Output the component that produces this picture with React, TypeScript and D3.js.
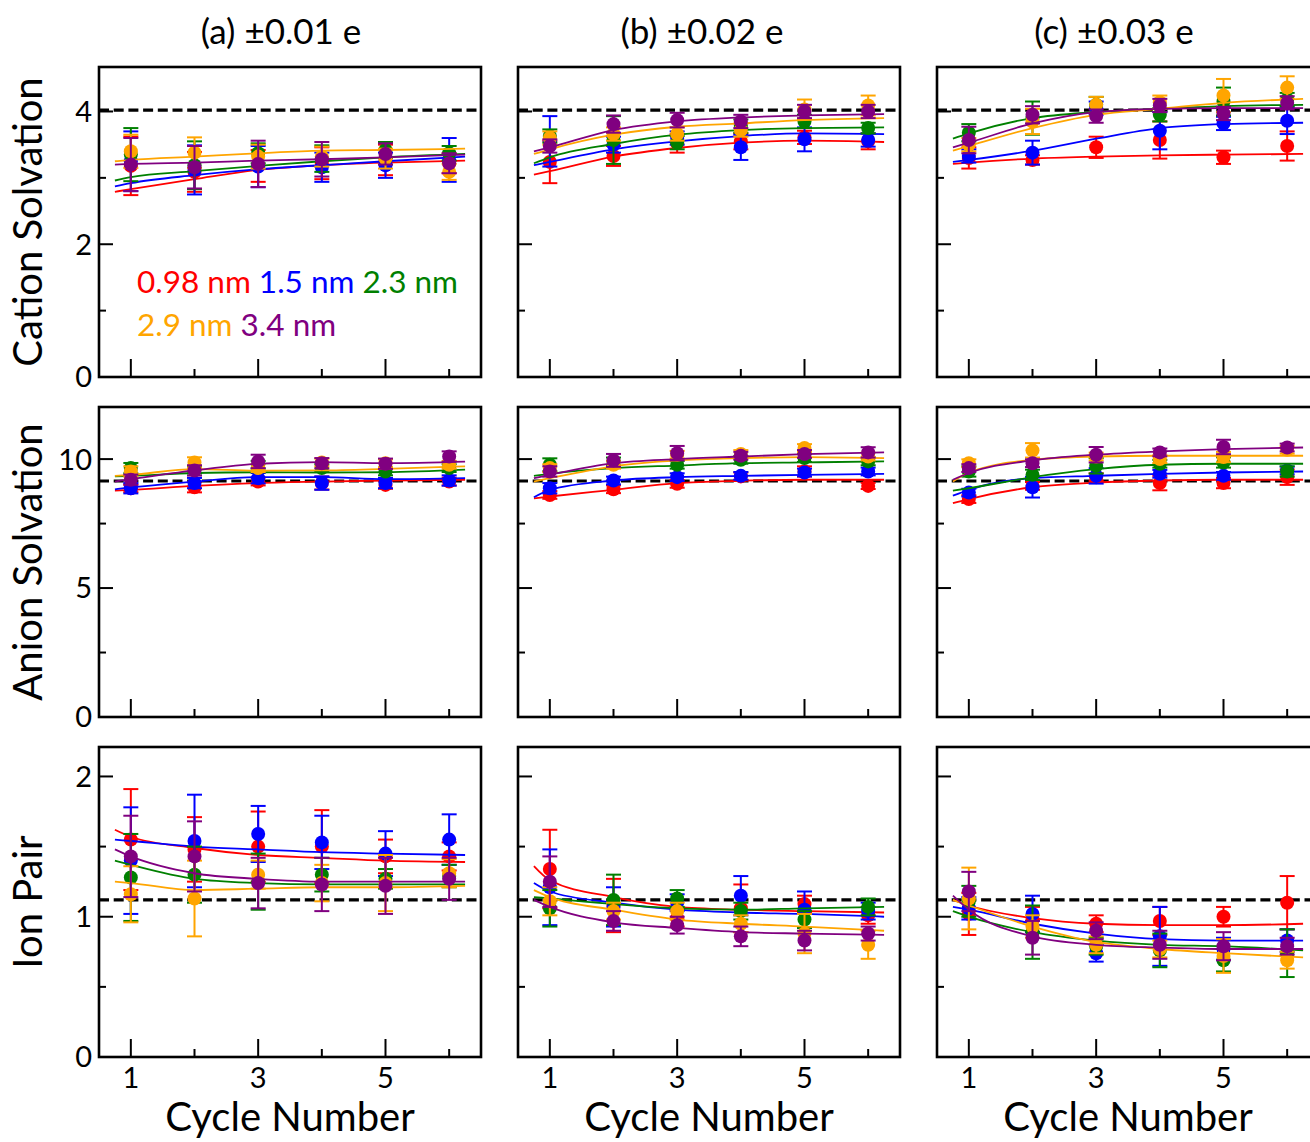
import React from "react";
import * as d3 from "d3";

// ---------- data ----------
const cycles = [1, 2, 3, 4, 5, 6];
const fitX = [0.75, 1, 2, 3, 4, 5, 6.25];
const seriesLabels = ["0.98 nm", "1.5 nm", "2.3 nm", "2.9 nm", "3.4 nm"];
const seriesColors = ["#ff0000", "#0000ff", "#008000", "#ffa500", "#800080"];
const panelTitles = ["(a) \u00b10.01 e", "(b) \u00b10.02 e", "(c) \u00b10.03 e"];
const rowLabels = ["Cation Solvation", "Anion Solvation", "Ion Pair"];
const xTickValues = [1, 2, 3, 4, 5, 6];
const xTickLabels = [1, 3, 5];
const cationTicks = [0, 1, 2, 3, 4];
const cationTickLabels = [0, 2, 4];
const anionTicks = [0, 2.5, 5, 7.5, 10];
const anionTickLabels = [0, 5, 10];
const pairTicks = [0, 0.5, 1, 1.5, 2];
const pairTickLabels = [0, 1, 2];
const yMax = [4.67, 12.02, 2.21];
const bulkRef = [4.02, 9.15, 1.12];

// series order: 0.98, 1.5, 2.3, 2.9, 3.4 nm
const cationA_mean = [
  [3.18, 3.09, 3.18, 3.22, 3.27, 3.22],
  [3.25, 3.12, 3.17, 3.16, 3.19, 3.27],
  [3.35, 3.19, 3.37, 3.29, 3.42, 3.37],
  [3.40, 3.38, 3.32, 3.32, 3.29, 3.09],
  [3.20, 3.16, 3.21, 3.28, 3.36, 3.22],
];
const cationA_err = [
  [0.44, 0.30, 0.24, 0.24, 0.23, 0.15],
  [0.45, 0.37, 0.31, 0.22, 0.19, 0.33],
  [0.40, 0.36, 0.15, 0.20, 0.12, 0.11],
  [0.25, 0.23, 0.18, 0.15, 0.15, 0.12],
  [0.40, 0.32, 0.35, 0.26, 0.16, 0.15],
];
const cationA_fit = [
  [2.79, 2.83, 2.98, 3.12, 3.19, 3.23, 3.26],
  [2.87, 2.92, 3.04, 3.13, 3.19, 3.25, 3.32],
  [2.96, 3.01, 3.10, 3.18, 3.25, 3.31, 3.36],
  [3.25, 3.27, 3.32, 3.37, 3.41, 3.42, 3.44],
  [3.20, 3.21, 3.23, 3.26, 3.28, 3.31, 3.35],
];

const cationB_mean = [
  [3.24, 3.33, 3.52, 3.55, 3.61, 3.55],
  [3.55, 3.50, 3.60, 3.46, 3.58, 3.57],
  [3.63, 3.57, 3.53, 3.78, 3.85, 3.75],
  [3.60, 3.66, 3.66, 3.72, 4.03, 4.09],
  [3.48, 3.81, 3.87, 3.85, 4.00, 4.00],
];
const cationB_err = [
  [0.32, 0.15, 0.14, 0.12, 0.10, 0.12],
  [0.38, 0.12, 0.10, 0.19, 0.18, 0.10],
  [0.10, 0.36, 0.10, 0.10, 0.10, 0.08],
  [0.10, 0.10, 0.10, 0.10, 0.15, 0.15],
  [0.10, 0.13, 0.11, 0.10, 0.10, 0.10],
];
const cationB_fit = [
  [3.05, 3.10, 3.32, 3.45, 3.53, 3.56, 3.54],
  [3.19, 3.24, 3.43, 3.55, 3.63, 3.67, 3.66],
  [3.22, 3.31, 3.51, 3.65, 3.72, 3.75, 3.76],
  [3.36, 3.43, 3.65, 3.77, 3.82, 3.87, 3.90],
  [3.40, 3.46, 3.72, 3.85, 3.91, 3.94, 3.96],
];

const cationC_mean = [
  [3.30, 3.27, 3.46, 3.57, 3.31, 3.48],
  [3.33, 3.38, 4.05, 3.71, 3.82, 3.86],
  [3.68, 3.90, 4.10, 3.95, 4.15, 4.18],
  [3.50, 3.85, 4.10, 4.14, 4.24, 4.36],
  [3.57, 3.95, 3.93, 4.09, 3.97, 4.13],
];
const cationC_err = [
  [0.16, 0.07, 0.16, 0.28, 0.10, 0.22],
  [0.10, 0.18, 0.10, 0.28, 0.10, 0.20],
  [0.13, 0.25, 0.12, 0.10, 0.21, 0.10],
  [0.10, 0.19, 0.12, 0.10, 0.25, 0.17],
  [0.20, 0.13, 0.10, 0.10, 0.10, 0.10],
];
const cationC_fit = [
  [3.21, 3.23, 3.29, 3.32, 3.34, 3.35, 3.36],
  [3.24, 3.27, 3.41, 3.59, 3.75, 3.81, 3.83],
  [3.59, 3.67, 3.90, 3.99, 4.04, 4.08, 4.10],
  [3.41, 3.48, 3.75, 3.95, 4.04, 4.13, 4.19],
  [3.46, 3.53, 3.82, 3.99, 4.04, 4.05, 4.05],
];

const anionA_mean = [
  [8.87, 8.91, 9.13, 9.07, 9.00, 9.13],
  [8.87, 9.07, 9.26, 9.07, 9.07, 9.17],
  [9.65, 9.59, 9.78, 9.65, 9.52, 9.65],
  [9.52, 9.87, 9.65, 9.87, 9.84, 9.78],
  [9.20, 9.56, 9.91, 9.84, 9.82, 10.10],
];
const anionA_err = [
  [0.15, 0.20, 0.15, 0.25, 0.15, 0.15],
  [0.20, 0.20, 0.20, 0.26, 0.20, 0.20],
  [0.20, 0.15, 0.15, 0.15, 0.15, 0.15],
  [0.20, 0.20, 0.15, 0.15, 0.15, 0.15],
  [0.20, 0.20, 0.26, 0.20, 0.20, 0.20],
];
const anionA_fit = [
  [8.78, 8.81, 8.96, 9.07, 9.13, 9.17, 9.20],
  [8.83, 8.90, 9.13, 9.30, 9.30, 9.22, 9.26],
  [9.33, 9.35, 9.46, 9.49, 9.48, 9.49, 9.59],
  [9.35, 9.39, 9.61, 9.55, 9.56, 9.62, 9.72],
  [9.13, 9.22, 9.56, 9.82, 9.88, 9.84, 9.90],
];

const anionB_mean = [
  [8.61, 8.83, 9.04, 9.33, 9.52, 8.96],
  [8.87, 9.17, 9.30, 9.35, 9.48, 9.52],
  [9.78, 9.91, 9.78, 9.97, 10.04, 9.91],
  [9.65, 9.78, 10.17, 10.20, 10.43, 10.10],
  [9.52, 9.95, 10.23, 10.13, 10.20, 10.26],
];
const anionB_err = [
  [0.15, 0.15, 0.15, 0.15, 0.20, 0.12],
  [0.20, 0.15, 0.15, 0.15, 0.15, 0.15],
  [0.25, 0.15, 0.15, 0.15, 0.15, 0.15],
  [0.15, 0.15, 0.15, 0.15, 0.15, 0.15],
  [0.20, 0.25, 0.28, 0.15, 0.15, 0.20],
];
const anionB_fit = [
  [8.48, 8.55, 8.81, 9.07, 9.16, 9.20, 9.20],
  [8.52, 8.81, 9.17, 9.30, 9.35, 9.39, 9.43],
  [9.35, 9.43, 9.65, 9.75, 9.84, 9.87, 9.91],
  [9.13, 9.26, 9.72, 9.95, 10.04, 10.08, 10.04],
  [9.26, 9.39, 9.84, 10.00, 10.10, 10.19, 10.26],
];

const anionC_mean = [
  [8.45, 8.96, 9.30, 9.07, 9.07, 9.30],
  [8.70, 8.91, 9.35, 9.43, 9.35, 9.56],
  [9.52, 9.39, 9.74, 9.82, 9.87, 9.52],
  [9.84, 10.34, 10.10, 10.00, 10.08, 10.36],
  [9.65, 9.84, 10.17, 10.26, 10.47, 10.45],
];
const anionC_err = [
  [0.15, 0.15, 0.15, 0.28, 0.20, 0.30],
  [0.15, 0.40, 0.30, 0.15, 0.15, 0.15],
  [0.20, 0.20, 0.30, 0.15, 0.20, 0.20],
  [0.15, 0.28, 0.15, 0.15, 0.20, 0.15],
  [0.15, 0.15, 0.30, 0.15, 0.28, 0.15],
];
const anionC_fit = [
  [8.29, 8.45, 8.91, 9.09, 9.17, 9.20, 9.20],
  [8.58, 8.81, 9.26, 9.35, 9.43, 9.48, 9.52],
  [8.78, 8.87, 9.30, 9.61, 9.78, 9.82, 9.82],
  [9.13, 9.48, 9.97, 10.10, 10.13, 10.13, 10.13],
  [9.20, 9.46, 9.95, 10.17, 10.30, 10.39, 10.45],
];

const pairA_mean = [
  [1.55, 1.48, 1.50, 1.50, 1.43, 1.43],
  [1.40, 1.54, 1.59, 1.53, 1.45, 1.55],
  [1.28, 1.30, 1.25, 1.30, 1.27, 1.29],
  [1.16, 1.13, 1.30, 1.24, 1.24, 1.31],
  [1.43, 1.43, 1.24, 1.23, 1.22, 1.27],
];
const pairA_err = [
  [0.36, 0.23, 0.25, 0.26, 0.12, 0.10],
  [0.38, 0.33, 0.20, 0.19, 0.16, 0.18],
  [0.31, 0.20, 0.20, 0.12, 0.07, 0.08],
  [0.20, 0.27, 0.10, 0.13, 0.20, 0.10],
  [0.29, 0.25, 0.18, 0.19, 0.20, 0.15],
];
const pairA_fit = [
  [1.62, 1.57, 1.49, 1.44, 1.42, 1.40, 1.39],
  [1.55, 1.54, 1.50, 1.48, 1.46, 1.45, 1.44],
  [1.40, 1.37, 1.27, 1.24, 1.23, 1.23, 1.23],
  [1.25, 1.24, 1.19, 1.20, 1.21, 1.21, 1.22],
  [1.48, 1.43, 1.31, 1.27, 1.25, 1.25, 1.25],
];

const pairB_mean = [
  [1.34, 1.08, 0.99, 1.06, 1.09, 1.01],
  [1.21, 1.07, 1.10, 1.15, 1.05, 1.04],
  [1.06, 1.12, 1.13, 1.04, 0.98, 1.07],
  [1.11, 1.04, 1.04, 0.95, 0.88, 0.80],
  [1.25, 0.97, 0.94, 0.86, 0.83, 0.88],
];
const pairB_err = [
  [0.28, 0.19, 0.06, 0.17, 0.06, 0.06],
  [0.27, 0.14, 0.06, 0.14, 0.13, 0.06],
  [0.13, 0.18, 0.06, 0.06, 0.06, 0.06],
  [0.10, 0.06, 0.06, 0.06, 0.14, 0.10],
  [0.18, 0.07, 0.06, 0.07, 0.07, 0.05],
];
const pairB_fit = [
  [1.36, 1.26, 1.14, 1.07, 1.05, 1.04, 1.03],
  [1.24, 1.18, 1.10, 1.05, 1.03, 1.02, 1.00],
  [1.14, 1.13, 1.09, 1.06, 1.05, 1.06, 1.07],
  [1.19, 1.14, 1.05, 0.98, 0.95, 0.93, 0.90],
  [1.12, 1.07, 0.96, 0.92, 0.89, 0.88, 0.87],
];

const pairC_mean = [
  [1.02, 0.98, 0.95, 0.97, 1.00, 1.10],
  [1.06, 1.02, 0.74, 0.86, 0.77, 0.83],
  [1.11, 0.89, 0.79, 0.76, 0.69, 0.74],
  [1.13, 0.93, 0.80, 0.77, 0.72, 0.69],
  [1.18, 0.85, 0.90, 0.80, 0.79, 0.79],
];
const pairC_err = [
  [0.15, 0.09, 0.06, 0.10, 0.07, 0.19],
  [0.08, 0.13, 0.06, 0.21, 0.08, 0.08],
  [0.11, 0.19, 0.06, 0.12, 0.08, 0.17],
  [0.22, 0.08, 0.06, 0.06, 0.12, 0.06],
  [0.14, 0.12, 0.06, 0.10, 0.10, 0.06],
];
const pairC_fit = [
  [1.12, 1.08, 0.99, 0.95, 0.94, 0.94, 0.95],
  [1.07, 1.05, 0.95, 0.88, 0.84, 0.83, 0.83],
  [1.04, 1.00, 0.89, 0.83, 0.80, 0.79, 0.76],
  [1.12, 1.08, 0.93, 0.82, 0.77, 0.74, 0.71],
  [1.15, 1.05, 0.86, 0.80, 0.78, 0.77, 0.77],
];

const panelData = [
  [
    [cationA_mean, cationA_err, cationA_fit],
    [cationB_mean, cationB_err, cationB_fit],
    [cationC_mean, cationC_err, cationC_fit],
  ],
  [
    [anionA_mean, anionA_err, anionA_fit],
    [anionB_mean, anionB_err, anionB_fit],
    [anionC_mean, anionC_err, anionC_fit],
  ],
  [
    [pairA_mean, pairA_err, pairA_fit],
    [pairB_mean, pairB_err, pairB_fit],
    [pairC_mean, pairC_err, pairC_fit],
  ],
];
const rowTicks = [cationTicks, anionTicks, pairTicks];
const rowTickLabels = [cationTickLabels, anionTickLabels, pairTickLabels];

// ---------- layout ----------
const W = 1310;
const H = 1142;
const colLeft = [99, 518, 937];
const rowTop = [67, 407, 747];
const PW = 382;
const PH = 310;
const titleX = [281, 702, 1114];
const FONT = "Lato, 'Open Sans', sans-serif";

function Panel({ row, col }: { row: number; col: number }) {
  const [mean, err, fit] = panelData[row][col];
  const x0 = colLeft[col];
  const y0 = rowTop[row];
  const x = d3.scaleLinear().domain([0.5, 6.5]).range([x0, x0 + PW]);
  const y = d3.scaleLinear().domain([0, yMax[row]]).range([y0 + PH, y0]);
  const line = d3
    .line<number>()
    .x((_, i) => x(fitX[i]))
    .y((d) => y(d))
    .curve(d3.curveMonotoneX);
  const ticks = rowTicks[row];
  const labels = rowTickLabels[row];
  const clipId = `clip-${row}-${col}`;
  return (
    <g>
      <defs>
        <clipPath id={clipId}>
          <rect x={x0} y={y0} width={PW} height={PH} />
        </clipPath>
      </defs>
      {ticks.map((t) => {
        const major = labels.includes(t);
        return (
          <line
            key={`yt${t}`}
            x1={x0}
            x2={x0 + (major ? 14 : 7)}
            y1={y(t)}
            y2={y(t)}
            stroke="#000"
            strokeWidth={2}
          />
        );
      })}
      {xTickValues.map((t) => {
        const major = xTickLabels.includes(t);
        return (
          <line
            key={`xt${t}`}
            x1={x(t)}
            x2={x(t)}
            y1={y0 + PH}
            y2={y0 + PH - (major ? 18 : 8)}
            stroke="#000"
            strokeWidth={2}
          />
        );
      })}
      <g clipPath={`url(#${clipId})`}>
        <line
          x1={x0}
          x2={x0 + PW}
          y1={y(bulkRef[row])}
          y2={y(bulkRef[row])}
          stroke="#000"
          strokeWidth={3.2}
          strokeDasharray="10 4.7"
        />
        {seriesColors.map((c, s) => (
          <g key={`s${s}`}>
            {cycles.map((cx, i) => {
              const m = mean[s][i];
              const e = err[s][i];
              return (
                <g key={`p${i}`}>
                  <line x1={x(cx)} x2={x(cx)} y1={y(m - e)} y2={y(m + e)} stroke={c} strokeWidth={2} />
                  <line x1={x(cx) - 7.5} x2={x(cx) + 7.5} y1={y(m - e)} y2={y(m - e)} stroke={c} strokeWidth={2} />
                  <line x1={x(cx) - 7.5} x2={x(cx) + 7.5} y1={y(m + e)} y2={y(m + e)} stroke={c} strokeWidth={2} />
                  <circle cx={x(cx)} cy={y(m)} r={7} fill={c} />
                </g>
              );
            })}
            <path d={line(fit[s]) || ""} fill="none" stroke={c} strokeWidth={1.8} />
          </g>
        ))}
      </g>
      <rect x={x0} y={y0} width={PW} height={PH} fill="none" stroke="#000" strokeWidth={2.6} />
      {col === 0 &&
        labels.map((t) => (
          <text
            key={`yl${t}`}
            x={x0 - 7}
            y={y(t)}
            dy="0.36em"
            textAnchor="end"
            fontSize={29}
            fontFamily={FONT}
          >
            {t}
          </text>
        ))}
      {row === 2 &&
        xTickLabels.map((t) => (
          <text key={`xl${t}`} x={x(t)} y={1088} textAnchor="middle" fontSize={29} fontFamily={FONT}>
            {t}
          </text>
        ))}
      {row === 2 && (
        <text x={x0 + PW / 2} y={1131} textAnchor="middle" fontSize={40} fontFamily={FONT}>
          Cycle Number
        </text>
      )}
      {row === 0 && (
        <text x={titleX[col]} y={44} textAnchor="middle" fontSize={35} fontFamily={FONT}>
          {panelTitles[col]}
        </text>
      )}
      {col === 0 && (
        <text
          transform={`translate(42, ${y0 + PH / 2}) rotate(-90)`}
          textAnchor="middle"
          fontSize={40}
          fontFamily={FONT}
        >
          {rowLabels[row]}
        </text>
      )}
    </g>
  );
}

function Legend() {
  const lines = [
    [0, 1, 2],
    [3, 4],
  ];
  const baselines = [293, 336];
  return (
    <g>
      {lines.map((ln, li) => (
        <text key={li} x={137} y={baselines[li]} fontSize={31.5} fontFamily={FONT}>
          {ln.map((s, k) => (
            <tspan key={s} fill={seriesColors[s]}>
              {(k > 0 ? " " : "") + seriesLabels[s]}
            </tspan>
          ))}
        </text>
      ))}
    </g>
  );
}

export default function App() {
  const rows = [0, 1, 2];
  const cols = [0, 1, 2];
  return (
    <div style={{ position: "absolute", left: 0, top: 0, width: W, height: H, overflow: "hidden", background: "#fff" }}>
      <svg width={W} height={H} viewBox={`0 0 ${W} ${H}`} style={{ display: "block" }}>
        <rect x={0} y={0} width={W} height={H} fill="#fff" />
        {rows.map((r) => cols.map((c) => <Panel key={`${r}-${c}`} row={r} col={c} />))}
        <Legend />
      </svg>
    </div>
  );
}
